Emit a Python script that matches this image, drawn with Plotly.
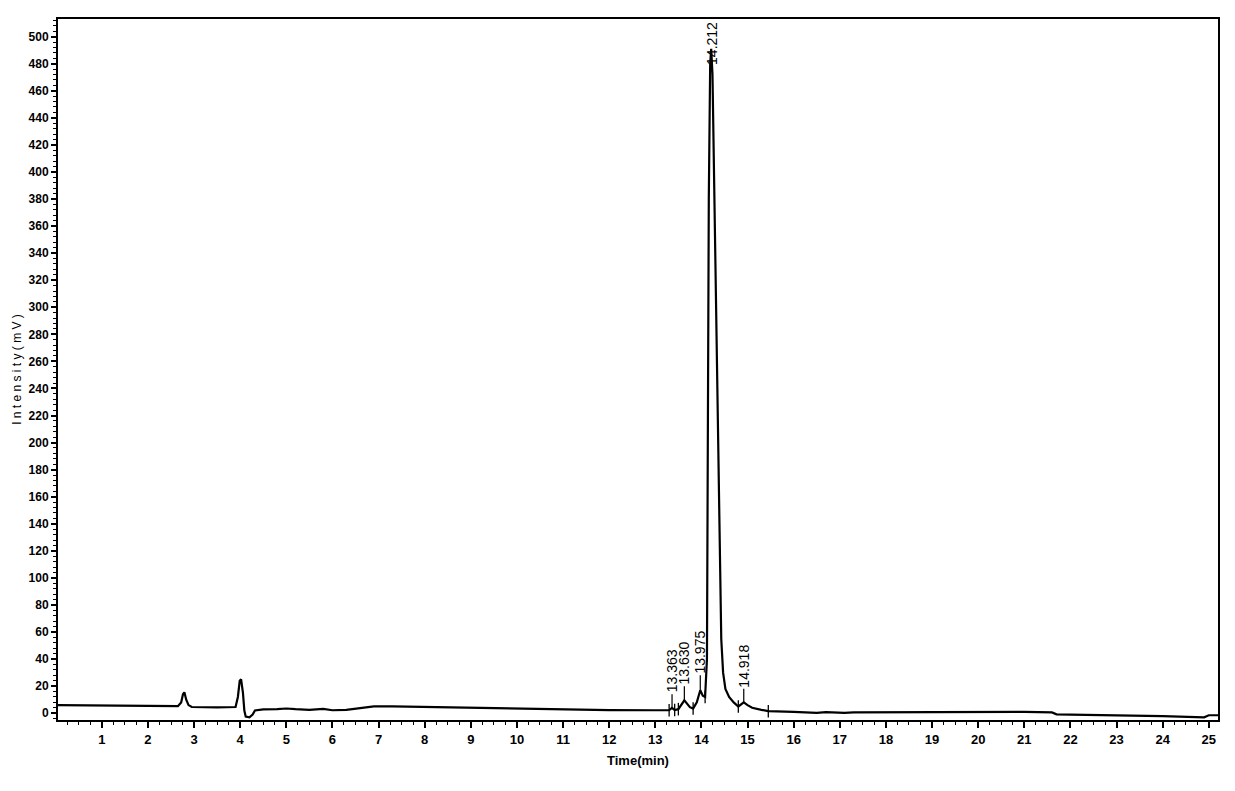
import plotly.graph_objects as go

# chromatogram trace (time in min, intensity in mV)
time_min = [0.05, 1.0, 2.0, 2.65, 2.72, 2.76, 2.79, 2.83, 2.88, 2.95, 3.5, 3.9, 3.95, 3.99, 4.02,
            4.06, 4.09, 4.12, 4.2, 4.27, 4.32, 4.5, 4.8, 5.0, 5.2, 5.5, 5.8, 6.0, 6.3, 6.5, 6.9,
            7.3, 8.0, 9.0, 10.0, 11.0, 12.0, 13.0, 13.3, 13.36, 13.42, 13.5, 13.63, 13.75, 13.82,
            13.9, 13.975, 14.03, 14.08, 14.12, 14.14, 14.16, 14.19, 14.212, 14.24, 14.28, 14.32,
            14.36, 14.40, 14.43, 14.47, 14.52, 14.6, 14.7, 14.8, 14.918, 15.0, 15.1, 15.3, 15.45,
            16.0, 16.4, 16.5, 16.7, 17.0, 17.1, 17.3, 18.0, 19.0, 19.8, 20.0, 21.0, 21.6, 21.7,
            22.0, 23.0, 24.0, 24.9, 25.0, 25.2]
intensity_mv = [6.0, 5.8, 5.5, 5.2, 8.0, 14.0, 15.5, 10.0, 6.0, 4.6, 4.4, 4.6, 12.0, 24.0, 25.0,
                15.0, 2.0, -2.5, -3.0, -1.0, 2.0, 2.8, 3.0, 3.5, 3.0, 2.5, 3.2, 2.2, 2.5, 3.5, 5.0,
                5.0, 4.6, 3.8, 3.0, 2.6, 2.3, 2.2, 2.2, 4.0, 2.4, 3.0, 9.5, 4.5, 3.5,
                8.0, 17.0, 13.0, 12.0, 40.0, 200.0, 380.0, 480.0, 491.0, 472.0, 380.0, 290.0,
                180.0, 100.0, 55.0, 30.0, 18.0, 12.0, 8.0, 5.0, 8.0, 6.0, 4.0, 2.5, 1.5,
                1.0, 0.8, 0.2, 0.8, 0.5, 0.2, 0.6, 0.7, 0.8, 0.9, 1.4, 1.0, 0.6, -0.8,
                -1.0, -1.5, -2.2, -3.0, -1.5, -1.5]

# peak retention time labels
peak_times = [13.363, 13.630, 13.975, 14.212, 14.918]
peak_heights = [4.0, 9.5, 17.0, 491.0, 8.0]
peak_labels = ["13.363", "13.630", "13.975", "14.212", "14.918"]
label_centers = [31.0, 37.0, 45.0, 495.0, 35.0]

# integration event markers
event_times = [13.30, 13.42, 13.50, 13.82, 14.08, 14.80, 15.45]
event_levels = [2.2, 2.4, 3.0, 3.5, 12.0, 5.0, 1.5]

font_family = "Liberation Sans, Arial"

fig = go.Figure()
fig.add_trace(go.Scatter(x=time_min, y=intensity_mv, mode="lines",
                         line=dict(color="black", width=2.2), hoverinfo="skip", showlegend=False))
fig.add_trace(go.Scatter(x=event_times, y=event_levels, mode="markers",
                         marker=dict(symbol="line-ns", size=9, line=dict(color="black", width=1.3)),
                         hoverinfo="skip", showlegend=False))

for t, h, lab, c in zip(peak_times, peak_heights, peak_labels, label_centers):
    if c - h > 10:
        fig.add_annotation(x=t, y=h, xref="x", yref="y", axref="x", ayref="y", ax=t, ay=c,
                           text=lab, textangle=-90, showarrow=True, arrowhead=0,
                           arrowwidth=1.2, arrowcolor="black",
                           font=dict(family=font_family, size=14, color="black"))
    else:
        fig.add_annotation(x=t + 0.03, y=c, xref="x", yref="y", text=lab, textangle=-90,
                           showarrow=False,
                           font=dict(family=font_family, size=14, color="black"))

fig.update_layout(
    width=1219, height=775,
    margin=dict(l=50, r=9, t=11, b=63),
    paper_bgcolor="white", plot_bgcolor="white",
    font=dict(family=font_family, size=13, color="black"),
    xaxis=dict(range=[0.05, 25.2], tickmode="linear", tick0=0, dtick=1,
               ticks="outside", ticklen=6, tickwidth=1.5, tickcolor="black",
               minor=dict(ticks="outside", dtick=0.25, ticklen=3, tickcolor="black", tickwidth=1),
               showgrid=False, zeroline=False, showline=True, linecolor="black", linewidth=2,
               mirror=True, automargin=False,
               tickfont=dict(family=font_family, size=13, weight="bold"),
               title=dict(text="Time(min)", font=dict(family=font_family, size=13, weight="bold"),
                          standoff=10)),
    yaxis=dict(range=[-5, 513], tickmode="linear", tick0=0, dtick=20,
               ticks="outside", ticklen=5, tickwidth=1.5, tickcolor="black",
               minor=dict(ticks="outside", dtick=4, ticklen=3, tickcolor="black", tickwidth=1),
               showgrid=False, zeroline=False, showline=True, linecolor="black", linewidth=2,
               mirror=True, automargin=False,
               tickfont=dict(family=font_family, size=12, weight="bold"),
               title=dict(text="I n t e n s i t y ( m V )", font=dict(family=font_family, size=12),
                          standoff=4)),
)

fig.write_html("out.html")
